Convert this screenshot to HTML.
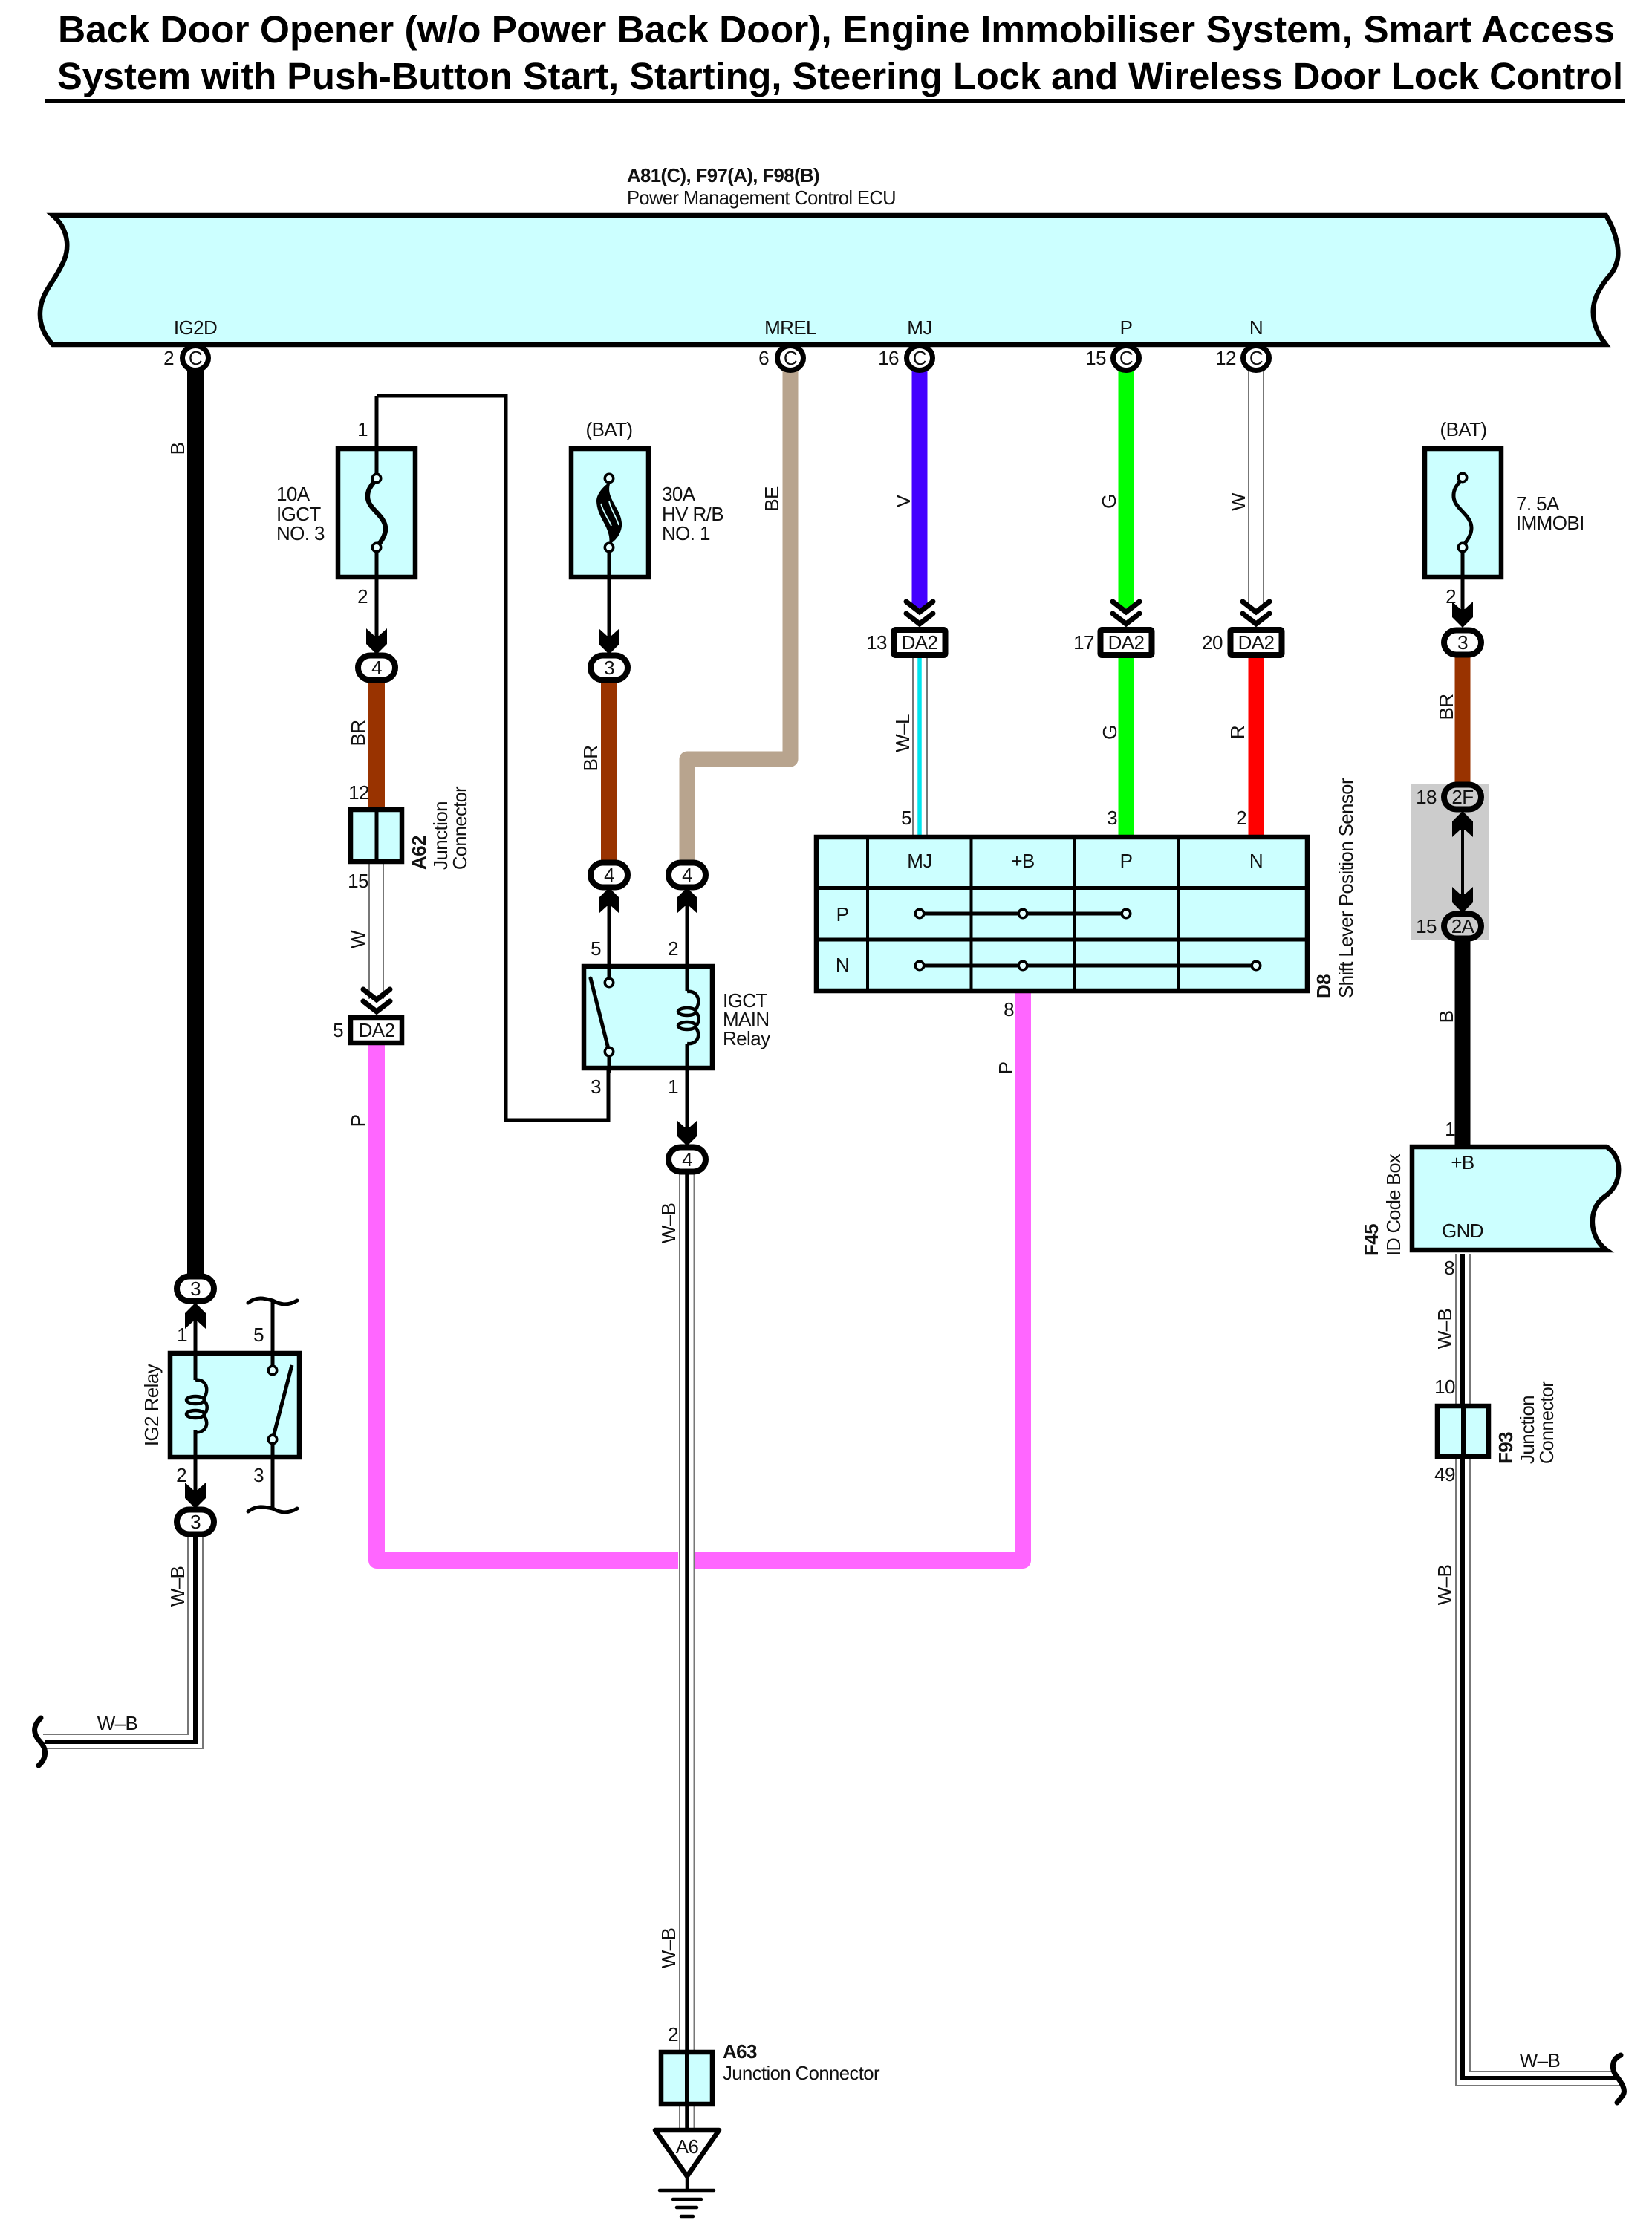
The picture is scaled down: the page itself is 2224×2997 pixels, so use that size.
<!DOCTYPE html>
<html><head><meta charset="utf-8"><title>Wiring diagram</title>
<style>
html,body{margin:0;padding:0;background:#fff}
svg{display:block}
text{font-family:"Liberation Sans",Arial,sans-serif;font-size:26px;letter-spacing:-.6px;fill:#111}
.b{font-weight:bold}
.m{text-anchor:middle}
.t{font-size:51px;font-weight:bold;fill:#000;letter-spacing:0}
.w{fill:none;stroke:#000;stroke-width:5}
.g{fill:none;stroke:#777;stroke-width:2}
.c{fill:#CCFFFF;stroke:#000;stroke-width:6.5;stroke-linejoin:miter}
</style></head><body>
<svg xmlns="http://www.w3.org/2000/svg" width="2224" height="2997" viewBox="0 0 2224 2997">
<defs>
<path id="ad" d="M0 3 L-14 -11 V-32 L-3 -22 H3 L14 -32 V-11 Z" fill="#000"/>
<path id="au" d="M0 -3 L-14 11 V32 L-3 22 H3 L14 32 V11 Z" fill="#000"/>
<g id="chev" fill="none" stroke="#000" stroke-width="7" stroke-linecap="round"><path d="M-18 -35 L0 -21 L18 -35"/><path d="M-18 -19 L0 -5 L18 -19"/></g>
<g id="coil" fill="none" stroke="#000" stroke-width="4.5"><path d="M0 0 C12 -2 20 10 12 24"/><ellipse cx="0" cy="27" rx="12" ry="5"/><ellipse cx="0" cy="46" rx="12" ry="5"/><path d="M12 28 C17 33 17 41 12 46"/><path d="M12 49 C20 60 12 72 0 70"/></g>
<path id="sc" d="M0 0 C-5 8 -13 14 -12 26 C-11 42 12 50 12 68 C12 78 5 86 0 93" fill="none" stroke="#000"/>
<rect id="ov" x="-25" y="-16.5" width="50" height="33" rx="16.5" fill="#fff" stroke="#000" stroke-width="8"/>
<ellipse id="pin" cx="0" cy="0" rx="17.5" ry="16.5" fill="#fff" stroke="#000" stroke-width="7"/>
<rect id="da" x="-34.5" y="-17" width="69" height="34" rx="2" fill="#fff" stroke="#000" stroke-width="8"/>
<circle id="tm" r="5.75" fill="#E6FFFF" stroke="#000" stroke-width="3.5"/>
</defs>

<!-- Title -->
<text class="t" x="78" y="57" textLength="2096" lengthAdjust="spacingAndGlyphs">Back Door Opener (w/o Power Back Door), Engine Immobiliser System, Smart Access</text>
<text class="t" x="77" y="120" textLength="2108" lengthAdjust="spacingAndGlyphs">System with Push-Button Start, Starting, Steering Lock and Wireless Door Lock Control</text>
<rect x="61" y="133" width="2127" height="6" fill="#000"/>

<text class="b" x="844" y="245" textLength="259" lengthAdjust="spacingAndGlyphs">A81(C), F97(A), F98(B)</text>
<text x="844" y="275" textLength="362" lengthAdjust="spacingAndGlyphs">Power Management Control ECU</text>

<!-- Thick wires -->
<g fill="none" stroke-linejoin="round">
<path d="M263 495 V1720" stroke="#000" stroke-width="22"/>
<path d="M1064 495 V1022 H925 V1160" stroke="#B8A48E" stroke-width="21"/>
<path d="M507 1407 V2101 H1377 V1337" stroke="#FF66FF" stroke-width="22"/>
<path d="M1238 495 V818" stroke="#4400FF" stroke-width="21"/>
<path d="M1516 495 V818" stroke="#00FF00" stroke-width="21"/>
<path d="M1516 886 V1124" stroke="#00FF00" stroke-width="21"/>
<path d="M1691 886 V1124" stroke="#FF0000" stroke-width="21"/>
<path d="M507 915 V1090" stroke="#993300" stroke-width="22"/>
<path d="M820 915 V1160" stroke="#993300" stroke-width="22"/>
</g>
<rect x="1900" y="1056" width="104" height="209" fill="#CCCCCC"/>
<g fill="none">
<path d="M1969 880 V1058" stroke="#993300" stroke-width="21"/>
<path d="M1969 1260 V1545" stroke="#000" stroke-width="21"/>
</g>

<!-- Thin white wires -->
<path class="g" d="M1681 495 V815 M1701 495 V815"/>
<path class="g" d="M497 1163 V1345 M516 1163 V1345"/>
<path d="M1238 886 V1124" stroke="#00E5EE" stroke-width="5.5"/>
<path class="g" d="M1229 886 V1124 M1248 886 V1124"/>

<!-- W-B wires -->
<rect x="913" y="1580" width="23" height="1287" fill="#fff"/>
<path class="g" d="M915 1580 V2867 M934.5 1580 V2867"/>
<path class="w" d="M925 1580 V2867" style="stroke-width:5.5"/>
<path class="g" d="M253 2068 V2335 H58 M273 2068 V2354 H62"/>
<path class="w" style="stroke-width:6" d="M263 2068 V2345 H60"/>
<path d="M55 2313 C42 2326 46 2336 54 2345 C64 2356 62 2368 52 2377" fill="none" stroke="#000" stroke-width="7" stroke-linecap="round"/>
<path class="g" d="M1960 1688 V2808 H2183 M1979 1688 V2789 H2170"/>
<path class="w" style="stroke-width:6" d="M1969 1688 V2798 H2177"/>
<path d="M2182 2767 C2168 2773 2170 2787 2176 2795 C2184 2805 2190 2815 2184 2822 L2177 2831" fill="none" stroke="#000" stroke-width="7" stroke-linecap="round"/>

<!-- ECU -->
<path class="c" d="M71 290 H2162 C2176 312 2182 340 2176 355 C2172 368 2165 372 2160 380 C2148 396 2142 412 2146 432 C2150 448 2156 456 2162 464 H71 C60 452 53 438 54 420 C55 400 65 388 73 375 C83 358 92 345 90 325 C88 308 80 298 71 290 Z"/>

<!-- Pins on ECU -->
<use href="#pin" x="263" y="482"/><use href="#pin" x="1064" y="482"/><use href="#pin" x="1238" y="482"/><use href="#pin" x="1516" y="482"/><use href="#pin" x="1691" y="482"/>
<text class="m" x="263" y="491">C</text><text class="m" x="1064" y="491">C</text><text class="m" x="1238" y="491">C</text><text class="m" x="1516" y="491">C</text><text class="m" x="1691" y="491">C</text>
<text class="m" x="263" y="450">IG2D</text><text class="m" x="1064" y="450">MREL</text><text class="m" x="1238" y="450">MJ</text><text class="m" x="1516" y="450">P</text><text class="m" x="1691" y="450">N</text>
<text class="m" x="227" y="491">2</text><text class="m" x="1028" y="491">6</text><text class="m" x="1196" y="491">16</text><text class="m" x="1475" y="491">15</text><text class="m" x="1650" y="491">12</text>

<!-- Rotated wire labels -->
<text class="m" transform="translate(248 604) rotate(-90)">B</text>
<text class="m" transform="translate(1048 672) rotate(-90)">BE</text>
<text class="m" transform="translate(1225 675) rotate(-90)">V</text>
<text class="m" transform="translate(1502 675) rotate(-90)">G</text>
<text class="m" transform="translate(1676 676) rotate(-90)">W</text>
<text class="m" transform="translate(491 987) rotate(-90)">BR</text>
<text class="m" transform="translate(804 1021) rotate(-90)">BR</text>
<text class="m" transform="translate(491 1265) rotate(-90)">W</text>
<text class="m" transform="translate(491 1509) rotate(-90)">P</text>
<text class="m" transform="translate(1224 987) rotate(-90)">W&#8211;L</text>
<text class="m" transform="translate(1503 986) rotate(-90)">G</text>
<text class="m" transform="translate(1675 986) rotate(-90)">R</text>
<text class="m" transform="translate(1363 1438) rotate(-90)">P</text>
<text class="m" transform="translate(1956 952) rotate(-90)">BR</text>
<text class="m" transform="translate(1956 1369) rotate(-90)">B</text>
<text class="m" transform="translate(248 2136) rotate(-90)">W&#8211;B</text>
<text class="m" transform="translate(909 1647) rotate(-90)">W&#8211;B</text>
<text class="m" transform="translate(909 2623) rotate(-90)">W&#8211;B</text>
<text class="m" transform="translate(1954 1789) rotate(-90)">W&#8211;B</text>
<text class="m" transform="translate(1954 2134) rotate(-90)">W&#8211;B</text>
<text class="m" x="158" y="2329">W&#8211;B</text>
<text class="m" x="2073" y="2783">W&#8211;B</text>

<!-- Fuse 10A -->
<path class="w" d="M507 533 H681 V1508 H819 V1416"/>
<rect class="c" x="455" y="604" width="104" height="173"/>
<path class="w" d="M507 533 V644"/>
<use href="#sc" x="507" y="644" style="stroke-width:6.5"/>
<use href="#tm" x="507" y="644"/><use href="#tm" x="507" y="737"/>
<path class="w" d="M507 742 V870"/>
<use href="#ad" x="507" y="878"/>
<use href="#ov" x="507" y="899"/>
<text class="m" x="507" y="908">4</text>
<text class="m" x="488" y="587">1</text><text class="m" x="488" y="812">2</text>
<text x="372" y="674">10A</text><text x="372" y="701">IGCT</text><text x="372" y="727">NO. 3</text>

<!-- Fuse 30A -->
<rect class="c" x="769" y="604" width="104" height="173"/>
<path d="M822 648 C812 655 803 665 803 675 C804 695 817 705 820 722 C821 730 820 733 820 733 C830 728 838 716 837 704 C836 690 826 680 822 668 C819 660 820 655 822 648Z" fill="#000"/>
<path d="M809 678 C812 690 819 698 823 708 M820 675 C823 688 830 696 833 707" fill="none" stroke="#CCFFFF" stroke-width="1.8"/>
<use href="#tm" x="820" y="644"/><use href="#tm" x="820" y="737"/>
<path class="w" d="M820 742 V870"/>
<use href="#ad" x="820" y="878"/>
<use href="#ov" x="820" y="899"/>
<text class="m" x="820" y="908">3</text>
<text class="m" x="820" y="587">(BAT)</text>
<text x="891" y="674">30A</text><text x="891" y="701">HV R/B</text><text x="891" y="727">NO. 1</text>

<!-- A62 -->
<rect class="c" x="472" y="1090" width="69" height="70"/>
<path class="w" d="M507 1090 V1160"/>
<text class="m" x="483" y="1076">12</text><text class="m" x="482" y="1195">15</text>
<text class="b" transform="translate(573 1171) rotate(-90)">A62</text>
<text transform="translate(602 1171) rotate(-90)">Junction</text>
<text transform="translate(628 1171) rotate(-90)" textLength="112" lengthAdjust="spacingAndGlyphs">Connector</text>
<use href="#chev" x="507" y="1367"/>
<rect x="472" y="1370" width="69" height="34" fill="#fff" stroke="#000" stroke-width="6.5"/>
<text class="m" x="507" y="1396">DA2</text>
<text class="m" x="455" y="1396">5</text>

<!-- IGCT relay -->
<use href="#ov" x="820" y="1178"/><use href="#ov" x="925" y="1178"/><use href="#ov" x="925" y="1561"/>
<text class="m" x="820" y="1187">4</text><text class="m" x="925" y="1187">4</text><text class="m" x="925" y="1570">4</text>
<path class="w" d="M820 1200 V1323 M925 1200 V1334"/>
<use href="#au" x="820" y="1198"/><use href="#au" x="925" y="1198"/>
<rect class="c" x="786" y="1301" width="173" height="137"/>
<path class="w" d="M820 1298 V1323 M820 1416 V1445 M925 1298 V1334 M925 1405 V1530"/>
<path d="M820 1416 L795 1317" fill="none" stroke="#000" stroke-width="5" stroke-linecap="round"/>
<use href="#tm" x="820" y="1323"/><use href="#tm" x="820" y="1416"/>
<use href="#coil" x="925" y="1335"/>
<use href="#ad" x="925" y="1540"/>
<text class="m" x="802" y="1286">5</text><text class="m" x="906" y="1286">2</text><text class="m" x="802" y="1472">3</text><text class="m" x="906" y="1472">1</text>
<text x="973" y="1356">IGCT</text><text x="973" y="1381">MAIN</text><text x="973" y="1407">Relay</text>

<!-- DA2 top row -->
<use href="#chev" x="1238" y="845"/><use href="#chev" x="1516" y="845"/><use href="#chev" x="1691" y="845"/>
<use href="#da" x="1238" y="865"/><use href="#da" x="1516" y="865"/><use href="#da" x="1691" y="865"/>
<text class="m" x="1238" y="874">DA2</text><text class="m" x="1516" y="874">DA2</text><text class="m" x="1691" y="874">DA2</text>
<text class="m" x="1180" y="874">13</text><text class="m" x="1459" y="874">17</text><text class="m" x="1632" y="874">20</text>
<text class="m" x="1220" y="1110">5</text><text class="m" x="1497" y="1110">3</text><text class="m" x="1671" y="1110">2</text>

<!-- Sensor table -->
<rect class="c" x="1099" y="1127" width="661" height="207"/>
<path d="M1168 1127 V1334 M1307.5 1127 V1334 M1447 1127 V1334 M1587 1127 V1334" stroke="#000" stroke-width="4" fill="none"/>
<path d="M1099 1195.5 H1760 M1099 1265 H1760" stroke="#000" stroke-width="5" fill="none"/>
<path class="w" d="M1238 1230 H1516 M1238 1300 H1691"/>
<use href="#tm" x="1238" y="1230"/><use href="#tm" x="1377" y="1230"/><use href="#tm" x="1516" y="1230"/>
<use href="#tm" x="1238" y="1300"/><use href="#tm" x="1377" y="1300"/><use href="#tm" x="1691" y="1300"/>
<text class="m" x="1238" y="1168">MJ</text><text class="m" x="1377" y="1168">+B</text><text class="m" x="1516" y="1168">P</text><text class="m" x="1691" y="1168">N</text>
<text class="m" x="1134" y="1240">P</text><text class="m" x="1134" y="1308">N</text>
<text class="m" x="1358" y="1368">8</text>
<text class="b" transform="translate(1791 1344) rotate(-90)">D8</text>
<text transform="translate(1821 1344) rotate(-90)" textLength="296" lengthAdjust="spacingAndGlyphs">Shift Lever Position Sensor</text>

<!-- Right fuse -->
<rect class="c" x="1918" y="604" width="103" height="173"/>
<use href="#sc" x="1969" y="643" style="stroke-width:5"/>
<use href="#tm" x="1969" y="643"/><use href="#tm" x="1969" y="737"/>
<path class="w" d="M1969 742 V832"/>
<use href="#ad" x="1969" y="842"/>
<use href="#ov" x="1969" y="865"/>
<text class="m" x="1969" y="874">3</text>
<text class="m" x="1970" y="587">(BAT)</text>
<text x="2041" y="687">7. 5A</text><text x="2041" y="713">IMMOBI</text>
<text class="m" x="1953" y="812">2</text>

<!-- 2F / 2A -->
<rect x="-25" y="-16.5" width="50" height="33" rx="16.5" transform="translate(1969 1073)" fill="#CCCCCC" stroke="#000" stroke-width="8"/>
<rect x="-25" y="-16.5" width="50" height="33" rx="16.5" transform="translate(1969 1247)" fill="#CCCCCC" stroke="#000" stroke-width="8"/>
<text class="m" x="1969" y="1082">2F</text><text class="m" x="1969" y="1256">2A</text>
<text class="m" x="1920" y="1082">18</text><text class="m" x="1920" y="1256">15</text>
<path class="w" style="stroke-width:4" d="M1969 1100 V1215"/>
<use href="#au" x="1969" y="1095"/>
<use href="#ad" x="1969" y="1226"/>

<!-- F45 -->
<path class="c" d="M1901 1544 H2163 C2176 1552 2180 1566 2179 1578 C2178 1596 2168 1606 2159 1612 C2148 1620 2143 1634 2144 1648 C2145 1664 2153 1676 2163 1683 H1901 Z"/>
<text class="m" x="1969" y="1574">+B</text><text class="m" x="1969" y="1666">GND</text>
<text class="m" x="1952" y="1529">1</text><text class="m" x="1951" y="1716">8</text>
<text class="b" transform="translate(1855 1691) rotate(-90)">F45</text>
<text transform="translate(1885 1691) rotate(-90)" textLength="137" lengthAdjust="spacingAndGlyphs">ID Code Box</text>

<!-- F93 -->
<rect class="c" x="1935" y="1893" width="69" height="68"/>
<path class="w" style="stroke-width:6" d="M1970 1893 V1961"/>
<text class="m" x="1945" y="1876">10</text><text class="m" x="1945" y="1994">49</text>
<text class="b" transform="translate(2036 1971) rotate(-90)">F93</text>
<text transform="translate(2065 1971) rotate(-90)">Junction</text>
<text transform="translate(2091 1971) rotate(-90)" textLength="111" lengthAdjust="spacingAndGlyphs">Connector</text>

<!-- IG2 relay -->
<path class="w" d="M263 1755 V1858 M263 1925 V2020 M367 1753 V1845 M367 1938 V2031"/>
<use href="#ov" x="263" y="1735"/><use href="#ov" x="263" y="2049"/>
<text class="m" x="263" y="1744">3</text><text class="m" x="263" y="2058">3</text>
<use href="#au" x="263" y="1757"/>
<use href="#ad" x="263" y="2028"/>
<rect class="c" x="229" y="1822" width="174" height="140"/>
<path class="w" d="M263 1819 V1858 M263 1925 V1965 M367 1819 V1845 M367 1938 V1965"/>
<use href="#coil" x="263" y="1858"/>
<path d="M367 1938 L393 1838" fill="none" stroke="#000" stroke-width="5"/>
<use href="#tm" x="367" y="1845"/><use href="#tm" x="367" y="1938"/>
<path d="M334 1754 C346 1745 356 1748 367 1751 C378 1757 388 1758 400 1751 M334 2035 C346 2026 356 2029 367 2031 C378 2037 388 2038 400 2031" fill="none" stroke="#000" stroke-width="5" stroke-linecap="round"/>
<text class="m" x="245" y="1806">1</text><text class="m" x="348" y="1806">5</text><text class="m" x="244" y="1995">2</text><text class="m" x="348" y="1995">3</text>
<text class="m" transform="translate(213 1892) rotate(-90)">IG2 Relay</text>

<!-- A63 -->
<rect class="c" x="890" y="2763" width="69" height="70"/>
<path class="w" style="stroke-width:6" d="M925 2763 V2833"/>
<text x="973" y="2771" class="b">A63</text>
<text x="973" y="2800" textLength="211" lengthAdjust="spacingAndGlyphs">Junction Connector</text>
<text class="m" x="906" y="2748">2</text>
<path d="M882 2868 H968 L925 2930 Z" fill="#fff" stroke="#000" stroke-width="6.5" stroke-linejoin="round"/>
<text class="m" x="925" y="2899">A6</text>
<path d="M925 2930 V2949 M888 2949 H961 M906 2961 H944 M911 2972 H938 M917 2984 H933" fill="none" stroke="#000" stroke-width="4.5" stroke-linecap="round"/>
</svg>
</body></html>
